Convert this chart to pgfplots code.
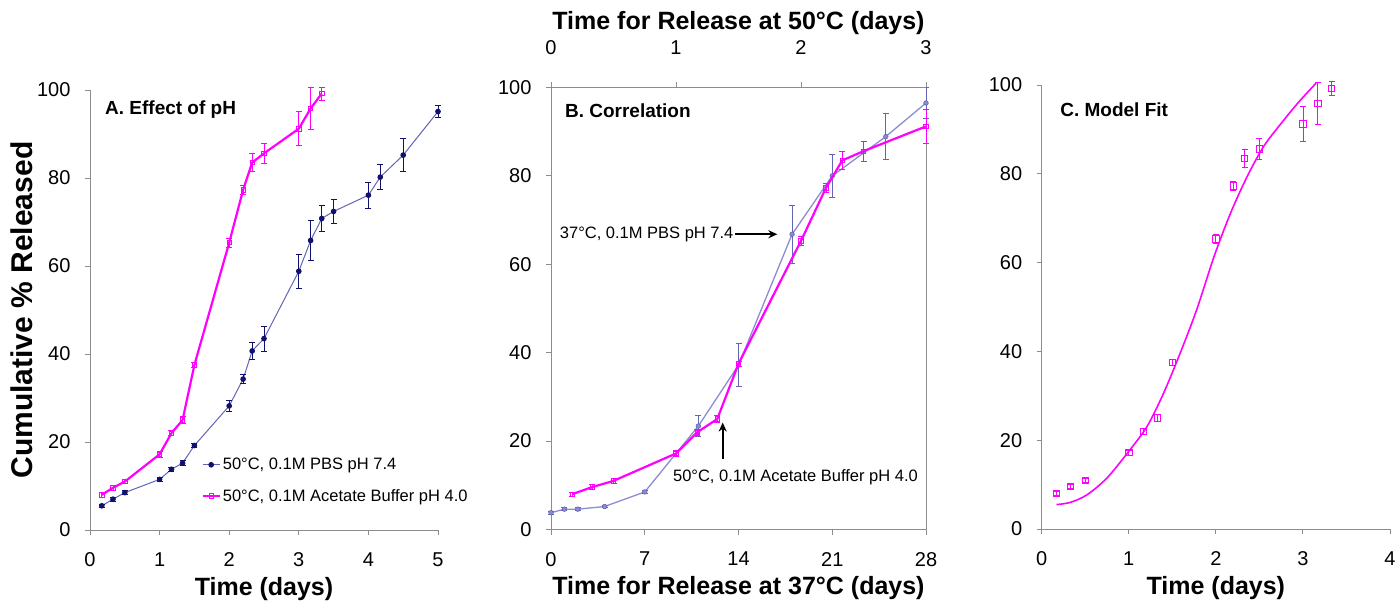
\documentclass[border=0pt]{standalone}
\usepackage{pgfplots}
\pgfplotsset{compat=1.18}
\usepackage{pgfplotstable}
\usepackage{fontspec}
\setmainfont{Liberation Sans}
\usetikzlibrary{arrows.meta}

\definecolor{navy}{HTML}{10106E}
\definecolor{slate}{HTML}{6464B4}
\definecolor{lav}{HTML}{8C8CD2}
\definecolor{mag}{HTML}{FF00FF}
\definecolor{axgray}{HTML}{8C8C8C}

% 50 C, 0.1M PBS pH 7.4 (days, cumulative %, error)
\pgfplotstableread{
x y e
0.17 5.5 0.4
0.33 7.0 0.4
0.5 8.5 0.4
1 11.5 0.5
1.17 13.8 0.5
1.33 15.2 0.6
1.5 19.2 0.5
2 28.2 1.2
2.2 34.3 1.0
2.33 40.7 2.0
2.5 43.5 2.8
3 58.8 3.9
3.17 65.8 4.5
3.33 70.8 2.9
3.5 72.4 2.8
4 76.1 3.0
4.17 80.2 2.8
4.5 85.2 3.7
5 95.1 1.4
}\pbsfifty

% 50 C, 0.1M acetate buffer pH 4.0
\pgfplotstableread{
x y e
0.17 8.0 0.5
0.33 9.6 0.5
0.5 11.0 0.5
1 17.2 0.6
1.17 22.0 0.6
1.33 25.0 0.8
1.5 37.5 0.6
2 65.3 1.0
2.2 77.3 1.0
2.33 83.5 2.0
2.5 85.6 2.3
3 91.2 3.9
3.17 95.8 4.7
3.33 99.2 1.5
}\acetate

% acetate points up to 3 days (top axis of panel B)
\pgfplotstableread{
x y e
0.17 8.0 0.5
0.33 9.6 0.5
0.5 11.0 0.5
1 17.2 0.6
1.17 22.0 0.6
1.33 25.0 0.8
1.5 37.5 0.6
2 65.3 1.0
2.2 77.3 1.0
2.33 83.5 2.0
2.5 85.6 2.3
3 91.2 3.9
}\acetateB

% 37 C, 0.1M PBS pH 7.4
\pgfplotstableread{
x y e
0 3.8 0.3
1 4.6 0.3
2 4.6 0.3
4 5.2 0.3
7 8.5 0.4
11 23.4 2.4
14 37.2 4.9
18 66.8 6.6
21 80.0 4.8
25 88.9 5.2
28 96.5 3.5
}\pbsthirty

\pgfplotsset{
  panel/.style={
    scale only axis,
    anchor=south west,
    ymin=0, ymax=100, ytick={0,20,...,100},
    axis line style={axgray, line width=0.9pt},
    tick style={axgray, line width=0.9pt},
    tick align=outside,
    major tick length=5pt,
    xtick pos=left, ytick pos=left,
    ticklabel style={font=\fontsize{20}{24}\selectfont},
    /pgf/number format/assume math mode=true,
    xlabel style={font=\bfseries\fontsize{25}{30}\selectfont},
    ylabel style={font=\bfseries\fontsize{30}{34}\selectfont},
    yticklabel style={xshift=-11pt},
    clip=false,
  },
  bottomlabels/.style={
    xticklabel style={yshift=-14pt},
    xlabel style={at={(axis description cs:0.5,0)}, anchor=center, yshift=-59pt},
  },
}
\tikzset{
  ptitle/.style={anchor=west, inner sep=0pt,
    font=\bfseries\fontsize{19}{23}\selectfont},
  note/.style={inner sep=0pt, font=\fontsize{16.5}{20}\selectfont},
}

\begin{document}
\begin{tikzpicture}
\path[use as bounding box] (0pt,0pt) rectangle (1398pt,603pt);

% ---------- A. Effect of pH ----------
\begin{axis}[panel, bottomlabels,
  at={(90pt,73pt)}, width=348pt, height=440pt,
  axis lines*=left,
  xmin=0, xmax=5, xtick={0,...,5},
  xlabel={Time (days)},
  ylabel={Cumulative \% Released},
  ylabel style={at={(axis description cs:-0.195,0.5)}, anchor=center},
  legend style={at={(axis description cs:0.32,0.168)}, anchor=north west,
    draw=none, fill=none, font=\fontsize{16.5}{20}\selectfont,
    row sep=14pt, inner sep=0pt,
  },
  legend cell align=left,
]
\addplot[color=slate, line width=1pt, mark=*, mark size=2.3pt,
  mark options={fill=navy, draw=navy},
  error bars/.cd, y dir=both, y explicit,
  error bar style={navy, line width=0.8pt},
  error mark options={navy, mark size=3pt, rotate=90, line width=0.8pt}]
  table[x=x, y=y, y error=e] {\pbsfifty};
\addlegendentry{50°C, 0.1M PBS pH 7.4}
\addplot[color=mag, line width=2.2pt, mark=square, mark size=2.2pt,
  mark options={draw=mag, line width=0.8pt, fill=mag!40},
  error bars/.cd, y dir=both, y explicit,
  error bar style={mag, line width=0.8pt},
  error mark options={mag, mark size=3pt, rotate=90, line width=0.8pt}]
  table[x=x, y=y, y error=e] {\acetate};
\addlegendentry{50°C, 0.1M Acetate Buffer pH 4.0}
\node[ptitle] at (axis description cs:0.043,0.955) {A. Effect of pH};
\end{axis}

% ---------- B. Correlation ----------
\begin{axis}[panel, bottomlabels,
  at={(551pt,73.5pt)}, width=375pt, height=442pt,
  xmin=0, xmax=28, xtick={0,7,14,21,28},
  xlabel={Time for Release at 37°C (days)},
]
\addplot[color=lav, line width=1.3pt, mark=*, mark size=2.3pt,
  mark options={fill=lav, draw=slate, line width=0.6pt},
  error bars/.cd, y dir=both, y explicit,
  error bar style={slate, line width=0.8pt},
  error mark options={slate, mark size=3pt, rotate=90, line width=0.8pt}]
  table[x=x, y=y, y error=e] {\pbsthirty};
\node[note, anchor=west] at (axis cs:0.65,66.8) {37°C, 0.1M PBS pH 7.4};
\draw[-{Stealth[length=9pt,width=8pt]}, line width=1.6pt]
  (axis cs:13.75,66.8) -- (axis cs:16.9,66.8);
\draw[-{Stealth[length=9pt,width=8pt]}, line width=1.6pt]
  (axis cs:12.82,16.0) -- (axis cs:12.82,24.2);
\node[note, anchor=west] at (axis cs:9.1,11.9) {50°C, 0.1M Acetate Buffer pH 4.0};
\node[ptitle] at (axis description cs:0.037,0.948) {B. Correlation};
\end{axis}
\begin{axis}[panel,
  at={(551pt,73.5pt)}, width=375pt, height=442pt,
  axis x line*=top, axis y line=none,
  xtick pos=right,
  xmin=0, xmax=3, xtick={0,1,2,3},
  xticklabel style={yshift=24pt},
  xlabel={Time for Release at 50°C (days)},
  xlabel style={at={(axis description cs:0.5,1)}, anchor=center, yshift=64pt},
]
\addplot[color=mag, line width=2.2pt, mark=square, mark size=2.2pt,
  mark options={draw=mag, line width=0.8pt, fill=mag!40},
  error bars/.cd, y dir=both, y explicit,
  error bar style={mag, line width=0.8pt},
  error mark options={mag, mark size=3pt, rotate=90, line width=0.8pt}]
  table[x=x, y=y, y error=e] {\acetateB};
\end{axis}

% ---------- C. Model Fit ----------
\begin{axis}[panel, bottomlabels,
  at={(1041.7pt,74pt)}, width=348.3pt, height=444pt,
  axis lines*=left,
  xmin=0, xmax=4, xtick={0,...,4},
  xlabel={Time (days)},
]
\addplot[only marks, mark=square, mark size=3.2pt,
  mark options={draw=mag, line width=0.8pt, fill=white},
  error bars/.cd, y dir=both, y explicit,
  error bar style={mag, line width=0.8pt},
  error mark options={mag, mark size=3pt, rotate=90, line width=0.8pt}]
  table[x=x, y=y, y error=e] {\acetate};
\addplot[color=mag, line width=1.6pt, smooth] coordinates {
  (0.17,5.5) (0.33,6.0) (0.52,7.7) (0.75,11.5) (1.0,17.5)
  (1.21,23.1) (1.40,30.6) (1.59,39.6) (1.78,49.4) (1.98,61.4)
  (2.17,71.2) (2.36,79.4) (2.55,86.2) (2.74,91.1) (2.94,95.9)
  (3.15,100.4)
};
\node[ptitle] at (axis description cs:0.053,0.944) {C. Model Fit};
\end{axis}
\end{tikzpicture}
\end{document}
